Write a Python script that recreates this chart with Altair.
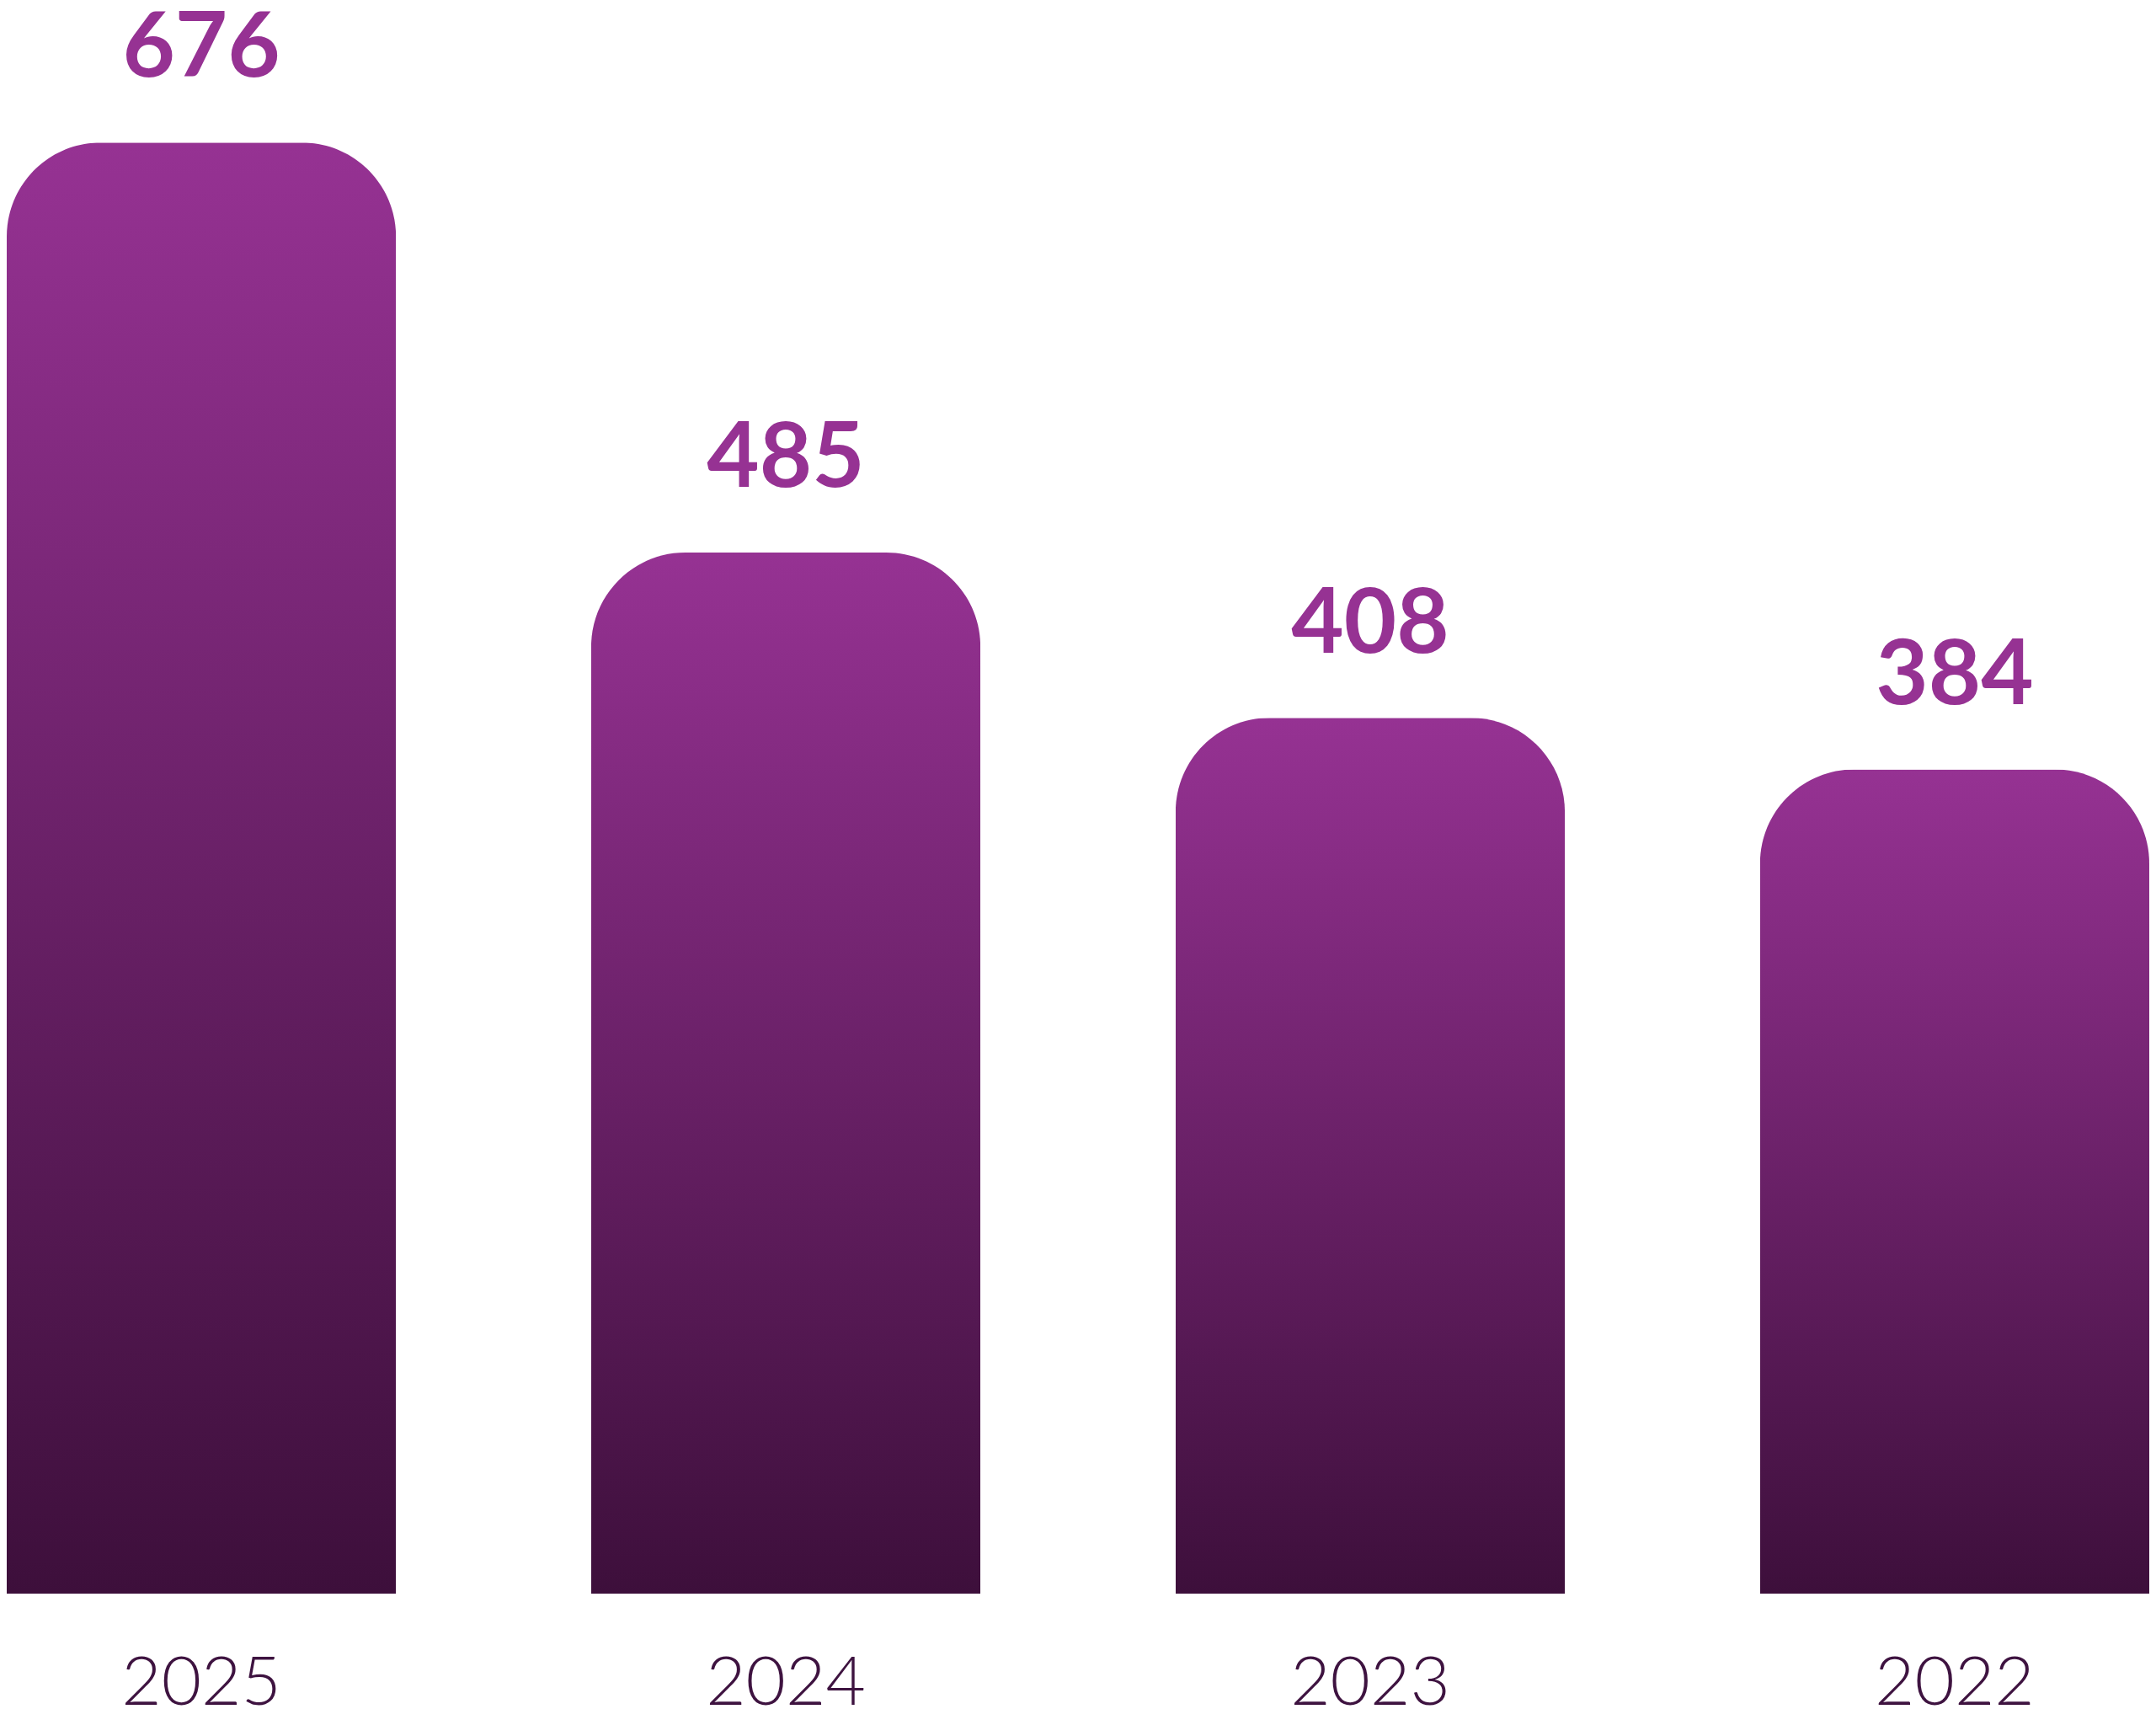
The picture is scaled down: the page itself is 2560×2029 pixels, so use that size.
import altair as alt
import pandas as pd

years = ["2025", "2024", "2023", "2022"]
values = [676, 485, 408, 384]

df = pd.DataFrame({"year": years, "value": values})

grad = alt.Gradient(
    gradient="linear",
    stops=[alt.GradientStop(color="#963293", offset=0),
           alt.GradientStop(color="#3d0f3b", offset=1)],
    x1=0, x2=0, y1=0, y2=1,
)

x = alt.X("year:N", sort=years,
          scale=alt.Scale(paddingInner=0.334, paddingOuter=0),
          axis=alt.Axis(title=None, domain=False, ticks=False, tickSize=0,
                        labelPadding=67, labelFont="Lato", labelFontWeight=300,
                        labelFontSize=82, labelColor="#3e1340", labelAngle=0,
                        labelLimit=0, grid=False))
y = alt.Y("value:Q", scale=alt.Scale(domain=[0, 738], nice=False, zero=True),
          axis=None)

bars = alt.Chart(df).mark_bar(
    color=grad, cornerRadiusTopLeft=112, cornerRadiusTopRight=112
).encode(x=x, y=y)

labels = alt.Chart(df).mark_text(
    baseline="alphabetic", dy=-78, font="Lato", fontWeight="bold",
    fontSize=108, color="#963293"
).encode(x=alt.X("year:N", sort=years), y="value:Q", text="value:Q")

chart = (bars + labels).properties(
    width=2552, height=1887,
    background="white",
    autosize=alt.AutoSizeParams(type="none"),
    padding={"left": 0, "top": 0, "right": 0, "bottom": 132},
).configure_view(strokeWidth=0, stroke="transparent")

chart.save("out.html", embed_options={"renderer": "svg", "actions": False})
